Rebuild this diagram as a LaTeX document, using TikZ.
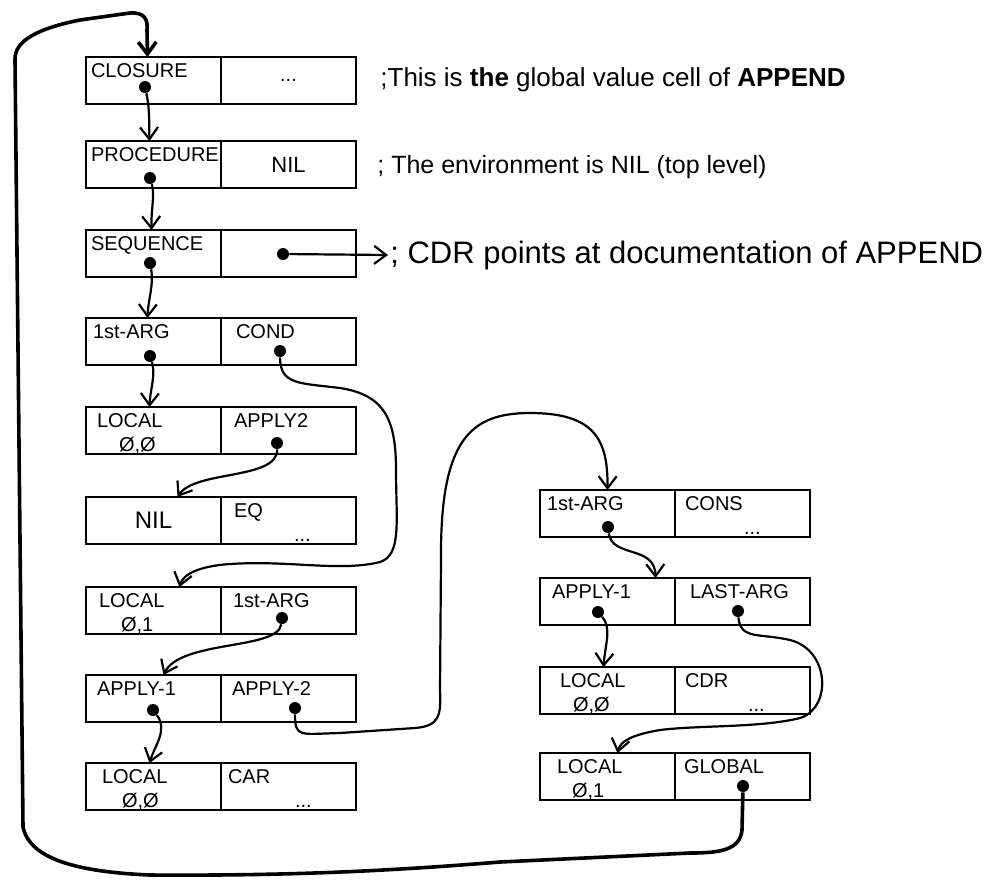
\documentclass[tikz,border=0pt]{standalone}
\usepackage{fontspec}
\setmainfont{Liberation Sans}
\usetikzlibrary{arrows.meta,positioning}

\newcommand{\boxfont}{\fontsize{10}{12}\selectfont}

\tikzset{
  cell/.style={draw, line width=1.4pt, outer sep=0pt, inner sep=0pt,
    minimum width=67.5pt, minimum height=23.5pt, font=\boxfont},
  celltop/.style={cell, text width=62.5pt, align=left, inner xsep=2.5pt,
    inner ysep=2pt, text height=8pt, text depth=11.5pt},
  cellmid/.style={cell, align=center},
  dot/.style={circle, fill, inner sep=0pt, minimum size=6pt},
  link/.style={line width=1.1pt, -{Straight Barb[length=6pt,width=9pt]}},
  note/.style={anchor=west, inner sep=1pt},
}

\begin{document}
\begin{tikzpicture}[x=0.5pt, y=-0.5pt]
\path[use as bounding box, fill=white] (0,0) rectangle (990,880);

% the closure chain, left column
\node[celltop] (closure) at (153.5,80.5) {CLOSURE};
\node[cellmid, right=0pt of closure] (closureD) {...};
\node[celltop] (procedure) at (153.5,164.5) {PROCEDURE};
\node[cellmid, right=0pt of procedure, font=\fontsize{11}{13}\selectfont] (procedureD) {NIL};
\node[celltop] (sequence) at (153.5,253.5) {SEQUENCE};
\node[cellmid, right=0pt of sequence] (sequenceD) {};
\node[celltop] (arg) at (153.5,341.5) {\hspace*{1pt}1st-ARG};
\node[celltop, right=0pt of arg] (argD) {\hspace*{5pt}COND};
\node[celltop] (local) at (153.5,430.5) {\hspace*{3pt}LOCAL\\\hspace*{14pt}Ø,Ø};
\node[celltop, right=0pt of local] (localD) {\hspace*{4pt}APPLY2};
\node[cellmid, font=\fontsize{12}{14}\selectfont] (nil) at (153.5,520.5) {NIL};
\node[celltop, right=0pt of nil] (nilD) {\hspace*{4pt}EQ\\\hspace*{34pt}...};
\node[celltop] (localB) at (153.5,610.5) {\hspace*{4pt}LOCAL\\\hspace*{15pt}Ø,1};
\node[celltop, right=0pt of localB] (localBD) {\hspace*{3.5pt}1st-ARG};
\node[celltop] (app) at (153.5,698.5) {\hspace*{3pt}APPLY-1};
\node[celltop, right=0pt of app] (appD) {\hspace*{3pt}APPLY-2};
\node[celltop] (localC) at (153.5,786.5) {\hspace*{5.5pt}LOCAL\\\hspace*{15.5pt}Ø,Ø};
\node[celltop, right=0pt of localC] (localCD) {\hspace*{1pt}CAR\\\hspace*{34.5pt}...};

% the body of the COND, right column
\node[celltop] (rArg) at (607.5,513.5) {\hspace*{1pt}1st-ARG};
\node[celltop, right=0pt of rArg] (rArgD) {\hspace*{2.5pt}CONS\\\hspace*{32pt}...};
\node[celltop] (rApp) at (607.5,601.5) {\hspace*{3.5pt}APPLY-1};
\node[celltop, right=0pt of rApp] (rAppD) {\hspace*{5pt}LAST-ARG};
\node[celltop] (rLoc) at (607.5,690.5) {\hspace*{7.5pt}LOCAL\\\hspace*{14pt}Ø,Ø};
\node[celltop, right=0pt of rLoc] (rLocD) {\hspace*{2.5pt}CDR\\\hspace*{34pt}...};
\node[celltop] (rLocB) at (607.5,776.5) {\hspace*{6pt}LOCAL\\\hspace*{13.5pt}Ø,1};
\node[celltop, right=0pt of rLocB] (rLocBD) {\hspace*{2pt}GLOBAL};

% pointers
\node[dot] (pClosure) at (145,87) {};
\node[dot] (pProc) at (150,178) {};
\node[dot] (pSeq) at (150,263) {};
\node[dot] (pSeqD) at (283,254) {};
\node[dot] (pArg) at (150,356) {};
\node[dot] (pCond) at (280,351) {};
\node[dot] (pApply) at (277,443) {};
\node[dot] (pArgB) at (282,618) {};
\node[dot] (pApp) at (153,710) {};
\node[dot] (pApplyB) at (295,708) {};
\node[dot] (rpArg) at (608,527) {};
\node[dot] (rpApp) at (598,612) {};
\node[dot] (rpLast) at (738,611) {};
\node[dot] (rpGlobal) at (743,786) {};

% comments
\node[note, font=\fontsize{13}{15}\selectfont] (globalNote) at (378,80)
  {;This is \textbf{the} global value cell of \textbf{APPEND}};
\node[note, font=\fontsize{12.5}{15}\selectfont] (envNote) at (375,167)
  {; The environment is NIL (top level)};
\node[note, font=\fontsize{15.5}{18}\selectfont] (cdrNote) at (388,255)
  {; CDR points at documentation of APPEND};

\draw[link] (pClosure) .. controls (150,110) and (149,125) .. ([xshift=-2pt]procedure.north);
\draw[link] (pProc) .. controls (155,195) and (151,210) .. ([xshift=-1pt]sequence.north);
\draw[link] (pSeq) .. controls (154,285) and (148,300) .. ([xshift=-3pt]arg.north);
\draw[link] (pArg) .. controls (156,375) and (150,390) .. ([xshift=-2pt]local.north);
\draw[link] (pSeqD) -- (cdrNote.west);
\draw[link] (pCond) .. controls (280,385) and (300,383) .. (340,388)
  .. controls (385,395) and (396,420) .. (396,470)
  .. controls (396,520) and (402,555) .. (380,562)
  .. controls (340,572) and (290,560) .. (230,564)
  .. controls (200,566) and (183,574) .. ([xshift=13pt]localB.north);
\draw[link] (pApply) .. controls (278,480) and (195,470) .. ([xshift=12pt]nil.north);
\draw[link] (pArgB) .. controls (278,650) and (180,640) .. ([xshift=5pt]app.north);
\draw[link] (pApp) .. controls (168,730) and (155,745) .. ([xshift=-2pt]localC.north);
\draw[link] (pApplyB) .. controls (295,738) and (300,734) .. (340,733) -- (415,728)
  .. controls (440,726) and (441,715) .. (440,690) -- (441,560)
  .. controls (440,440) and (470,413) .. (530,413)
  .. controls (595,413) and (608,440) .. (rArg.north);
\draw[link] (rpArg) .. controls (612,558) and (655,545) .. ([xshift=24pt]rApp.north);
\draw[link] (rpApp) .. controls (612,628) and (605,645) .. ([xshift=-2pt]rLoc.north);
\draw[link] (rpLast) .. controls (740,640) and (760,633) .. (790,640)
  .. controls (830,650) and (832,708) .. (800,718)
  .. controls (760,728) and (700,725) .. (660,730)
  .. controls (630,735) and (620,742) .. ([xshift=5pt]rLocB.north);
% back to the global value cell
\draw[link, line width=1.8pt] (rpGlobal) -- (742,830)
  .. controls (740,850) and (720,853) .. (690,853) -- (500,862)
  .. controls (400,870) and (300,876) .. (150,875)
  .. controls (80,872) and (30,860) .. (23,827) -- (15,60)
  .. controls (14,40) and (40,28) .. (80,20) -- (130,13)
  .. controls (145,12) and (148,20) .. (147,30) -- ([xshift=-3pt]closure.north);
\end{tikzpicture}
\end{document}
